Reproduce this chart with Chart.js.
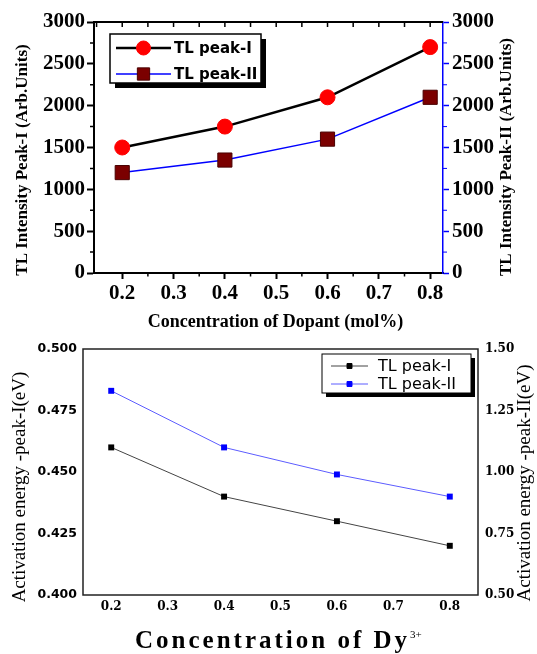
<!DOCTYPE html>
<html>
<head>
<meta charset="utf-8">
<script src="https://cdn.jsdelivr.net/npm/chart.js@4.4.0/dist/chart.umd.min.js"></script>
<style>
body{margin:0;background:#fff;}
canvas{position:absolute;left:0;}
#top{top:0;}
#bottom{top:330px;}
</style>
</head>
<body>
<canvas id="top" width="537" height="340"></canvas>
<canvas id="bottom" width="537" height="324"></canvas>
<script>
// dopant concentration (mol%)
const concentration = [0.2, 0.4, 0.6, 0.8];
// TL intensity, arb. units
const tlPeak1 = [1500, 1750, 2100, 2700];
const tlPeak2 = [1200, 1350, 1600, 2100];
// activation energy, eV
const energyPeak1 = [0.46, 0.44, 0.43, 0.42];
const energyPeak2 = [1.33, 1.10, 0.99, 0.90];

// ticks
const xTicks = [0.2, 0.3, 0.4, 0.5, 0.6, 0.7, 0.8];
const xMinor = [0.25, 0.35, 0.45, 0.55, 0.65, 0.75];
const xTopTicks = [0.15, 0.2, 0.25, 0.3, 0.35, 0.4, 0.45, 0.5, 0.55, 0.6, 0.65, 0.7, 0.75, 0.8];
const intensityTicks = [0, 500, 1000, 1500, 2000, 2500, 3000];
const intensityMinor = [250, 750, 1250, 1750, 2250, 2750];
const energy1Ticks = [0.400, 0.425, 0.450, 0.475, 0.500];
const energy2Ticks = [0.50, 0.75, 1.00, 1.25, 1.50];

function pts(xs, ys){
    return xs.map((x, i) => ({x: x, y: ys[i]}));
}
function setTicks(list){
    return s => { s.ticks = list.map(v => ({value: v})); };
}

// box, top line and minor tick marks
const frame = {
    id: 'frame',
    afterDraw(chart, args, o){
        const ctx = chart.ctx, a = chart.chartArea;
        ctx.save();
        if (o.box) {
            ctx.strokeStyle = o.box.color;
            ctx.lineWidth = o.box.width;
            ctx.strokeRect(a.left, a.top, a.right - a.left, a.bottom - a.top);
        }
        if (o.topLine) {
            ctx.strokeStyle = o.topLine.color;
            ctx.lineWidth = o.topLine.width;
            ctx.beginPath();
            ctx.moveTo(a.left - 1, a.top);
            ctx.lineTo(a.right, a.top);
            ctx.stroke();
        }
        (o.marks || []).forEach(m => {
            const s = chart.scales[m.scale];
            ctx.strokeStyle = m.color;
            ctx.lineWidth = m.width;
            ctx.beginPath();
            m.values.forEach(v => {
                const p = s.getPixelForValue(v);
                if (s.isHorizontal()) {
                    const y = m.at === 'top' ? a.top : a.bottom;
                    ctx.moveTo(p, y);
                    ctx.lineTo(p, y + m.len);
                } else {
                    const x = s.position === 'left' ? a.left : a.right;
                    ctx.moveTo(x, p);
                    ctx.lineTo(x + m.len, p);
                }
            });
            ctx.stroke();
        });
        ctx.restore();
    }
};

// axis titles
const labels = {
    id: 'labels',
    afterDraw(chart, args, o){
        const ctx = chart.ctx;
        o.items.forEach(t => {
            ctx.save();
            ctx.translate(t.x, t.y);
            ctx.rotate(t.rotate || 0);
            ctx.font = t.font;
            ctx.fillStyle = '#000';
            ctx.textAlign = t.align || 'center';
            ctx.textBaseline = t.baseline || 'middle';
            if (t.spacing) ctx.letterSpacing = t.spacing;
            ctx.fillText(t.text, 0, 0);
            if (t.sup) {
                const w = ctx.measureText(t.text).width;
                ctx.letterSpacing = '0px';
                ctx.font = t.supFont;
                ctx.fillText(t.sup, w, t.supDy);
            }
            ctx.restore();
        });
    }
};

// legend box with shadow
const boxLegend = {
    id: 'boxLegend',
    afterDraw(chart, args, o){
        const ctx = chart.ctx;
        ctx.save();
        ctx.fillStyle = '#000';
        ctx.fillRect(o.x + o.shadow, o.y + o.shadow, o.w, o.h);
        ctx.fillStyle = '#fff';
        ctx.fillRect(o.x, o.y, o.w, o.h);
        ctx.strokeStyle = '#000';
        ctx.lineWidth = o.border;
        ctx.strokeRect(o.x, o.y, o.w, o.h);
        chart.data.datasets.forEach((ds, i) => {
            const y = o.rows[i];
            ctx.strokeStyle = ds.borderColor;
            ctx.lineWidth = ds.borderWidth;
            ctx.beginPath();
            ctx.moveTo(o.x1, y);
            ctx.lineTo(o.x2, y);
            ctx.stroke();
            ctx.fillStyle = ds.pointBackgroundColor;
            ctx.strokeStyle = ds.pointBorderColor;
            ctx.lineWidth = 1;
            Chart.helpers.drawPoint(ctx, {pointStyle: ds.pointStyle, rotation: 0, radius: o.radius[i], borderWidth: 1}, (o.x1 + o.x2) / 2, y);
            ctx.fillStyle = '#000';
            ctx.font = o.font;
            ctx.textAlign = 'left';
            ctx.textBaseline = 'middle';
            ctx.fillText(ds.label, o.textX, y + 1);
        });
        ctx.restore();
    }
};

const serifBold = 'Liberation Serif';

new Chart(document.getElementById('top'), {
    type: 'line',
    data: {
        datasets: [{
            label: 'TL peak-I',
            data: pts(concentration, tlPeak1),
            yAxisID: 'y',
            borderColor: '#000',
            borderWidth: 2.5,
            pointStyle: 'circle',
            pointRadius: 7.5,
            pointBackgroundColor: '#ff0000',
            pointBorderColor: '#ff0000',
            pointBorderWidth: 1
        }, {
            label: 'TL peak-II',
            data: pts(concentration, tlPeak2),
            yAxisID: 'y2',
            borderColor: '#0000ff',
            borderWidth: 1.5,
            pointStyle: 'rect',
            pointRadius: 10,
            pointBackgroundColor: '#7b0000',
            pointBorderColor: '#4a0000',
            pointBorderWidth: 1
        }]
    },
    options: {
        responsive: false,
        animation: false,
        layout: {padding: {top: 22, left: 0, right: 0, bottom: 0}},
        plugins: {
            legend: {display: false},
            tooltip: {enabled: false},
            frame: {
                topLine: {color: '#000', width: 2},
                marks: [
                    {scale: 'x', at: 'bottom', values: xMinor, len: 3.5, color: '#000', width: 1.5},
                    {scale: 'x', at: 'top', values: xTopTicks, len: 5, color: '#000', width: 1.5},
                    {scale: 'y', values: intensityMinor, len: -4, color: '#000', width: 1.5},
                    {scale: 'y2', values: intensityMinor, len: 4, color: '#0000ff', width: 1}
                ]
            },
            labels: {
                items: [
                    {text: 'TL Intensity Peak-I (Arb.Units)', x: 23, y: 160, rotate: -Math.PI / 2, font: 'bold 17px "Liberation Serif"'},
                    {text: 'TL Intensity Peak-II (Arb.Units)', x: 507, y: 157, rotate: -Math.PI / 2, font: 'bold 17px "Liberation Serif"'},
                    {text: 'Concentration of Dopant (mol%)', x: 275.5, y: 322, font: 'bold 18px "Liberation Serif"'}
                ]
            },
            boxLegend: {
                x: 110, y: 34, w: 151, h: 49, shadow: 5, border: 1.5,
                rows: [48, 74], x1: 116, x2: 171, textX: 174,
                radius: [7, 8.7], font: 'bold 15px "DejaVu Sans"'
            }
        },
        scales: {
            x: {
                type: 'linear',
                min: 0.145,
                max: 0.825,
                afterBuildTicks: setTicks(xTicks),
                afterFit: s => { s.height = 67; },
                grid: {drawOnChartArea: false, tickLength: 6, tickColor: '#000', tickWidth: 2},
                border: {color: '#000', width: 2},
                ticks: {color: '#000', padding: 2, maxRotation: 0, font: {family: serifBold, weight: 'bold', size: 21}, callback: v => v.toFixed(1)}
            },
            y: {
                position: 'left',
                min: 0,
                max: 3000,
                afterBuildTicks: setTicks(intensityTicks),
                afterFit: s => { s.width = 94; },
                grid: {drawOnChartArea: false, tickLength: 7, tickColor: '#000', tickWidth: 2},
                border: {color: '#000', width: 2},
                ticks: {color: '#000', padding: 2, font: {family: serifBold, weight: 'bold', size: 21}, callback: v => String(v)}
            },
            y2: {
                position: 'right',
                min: 0,
                max: 3000,
                afterBuildTicks: setTicks(intensityTicks),
                afterFit: s => { s.width = 94; },
                grid: {drawOnChartArea: false, tickLength: 6, tickColor: '#0000ff', tickWidth: 1.5},
                border: {color: '#0000ff', width: 1.5},
                ticks: {color: '#000', padding: 3, font: {family: serifBold, weight: 'bold', size: 21}, callback: v => String(v)}
            }
        }
    },
    plugins: [frame, labels, boxLegend]
});

new Chart(document.getElementById('bottom'), {
    type: 'line',
    data: {
        datasets: [{
            label: 'TL peak-I',
            data: pts(concentration, energyPeak1),
            yAxisID: 'y',
            borderColor: '#444',
            borderWidth: 1,
            pointStyle: 'rect',
            pointRadius: 4.2,
            pointBackgroundColor: '#000',
            pointBorderColor: '#000',
            pointBorderWidth: 0
        }, {
            label: 'TL peak-II',
            data: pts(concentration, energyPeak2),
            yAxisID: 'y2',
            borderColor: '#5c5cff',
            borderWidth: 1,
            pointStyle: 'rect',
            pointRadius: 4.2,
            pointBackgroundColor: '#0000ff',
            pointBorderColor: '#0000ff',
            pointBorderWidth: 0
        }]
    },
    options: {
        responsive: false,
        animation: false,
        layout: {padding: {top: 19, left: 0, right: 0, bottom: 0}},
        plugins: {
            legend: {display: false},
            tooltip: {enabled: false},
            frame: {box: {color: '#222', width: 1.5}},
            labels: {
                items: [
                    {text: 'Activation energy -peak-I(eV)', x: 20, y: 157, rotate: -Math.PI / 2, font: '19px "Liberation Serif"'},
                    {text: 'Activation energy -peak-II(eV)', x: 525, y: 153, rotate: -Math.PI / 2, font: '19px "Liberation Serif"'},
                    {text: 'Concentration of Dy', x: 135, y: 318, align: 'left', baseline: 'alphabetic', spacing: '3px',
                     font: 'bold 25px "Liberation Serif"', sup: '3+', supFont: '11px "Liberation Serif"', supDy: -10}
                ]
            },
            boxLegend: {
                x: 322, y: 24, w: 149, h: 39, shadow: 4, border: 1,
                rows: [36, 54], x1: 331, x2: 368, textX: 378,
                radius: [3.5, 3.5], font: '16px "DejaVu Sans"'
            }
        },
        scales: {
            x: {
                type: 'linear',
                min: 0.15,
                max: 0.85,
                afterBuildTicks: setTicks(xTicks),
                afterFit: s => { s.height = 59; },
                grid: {display: false, drawTicks: false},
                border: {display: false},
                ticks: {color: '#000', padding: 5, maxRotation: 0, font: {family: 'DejaVu Serif', weight: 'bold', size: 12}, callback: v => v.toFixed(1)}
            },
            y: {
                position: 'left',
                min: 0.4,
                max: 0.5,
                afterBuildTicks: setTicks(energy1Ticks),
                afterFit: s => { s.width = 83; },
                grid: {display: false, drawTicks: false},
                border: {display: false},
                ticks: {color: '#000', padding: 6, font: {family: 'DejaVu Sans', weight: 'bold', size: 12.5}, callback: v => v.toFixed(3)}
            },
            y2: {
                position: 'right',
                min: 0.5,
                max: 1.5,
                afterBuildTicks: setTicks(energy2Ticks),
                afterFit: s => { s.width = 59; },
                grid: {display: false, drawTicks: false},
                border: {display: false},
                ticks: {color: '#000', padding: 7, font: {family: 'DejaVu Serif', weight: 'bold', size: 12}, callback: v => v.toFixed(2)}
            }
        }
    },
    plugins: [frame, labels, boxLegend]
});
</script>
</body>
</html>
